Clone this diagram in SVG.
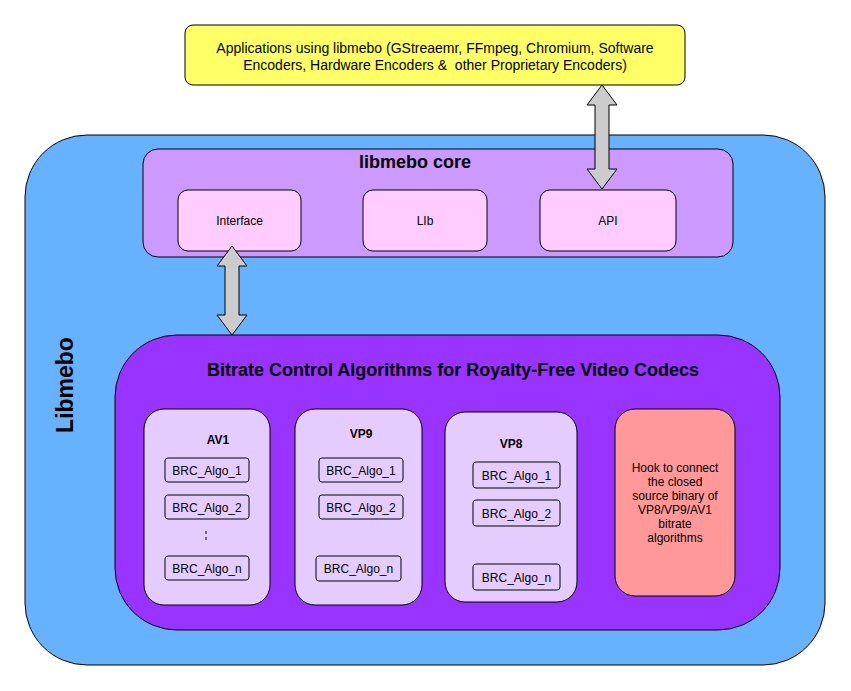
<svg xmlns="http://www.w3.org/2000/svg" width="851" height="691" viewBox="0 0 851 691">
<style>
text{font-family:"Liberation Sans",Arial,sans-serif;fill:#000;text-anchor:middle}
.b{font-weight:bold}
.box{stroke:#000;stroke-width:1}
.algo{fill:#e5ccff;stroke:#000;stroke-width:1}
.brc{fill:none;stroke:#000;stroke-width:1}
.arrow{fill:#cccccc;stroke:#000;stroke-width:1;stroke-linejoin:miter}
.s12{font-size:12px}
</style>
<rect width="851" height="691" fill="#fff"/>
<g id="libmebo">
<rect class="box" x="25" y="135" width="800" height="530" rx="62" fill="#66b2ff"/>
<text class="b" font-size="23" transform="translate(73,385) rotate(-90)">Libmebo</text>
</g>
<g id="apps">
<rect class="box" x="185" y="25" width="500" height="60" rx="8" fill="#ffff66"/>
<text font-size="14" x="435" y="53">Applications using libmebo (GStreaemr, FFmpeg, Chromium, Software</text>
<text font-size="14" x="435" y="70" xml:space="preserve">Encoders, Hardware Encoders &amp;  other Proprietary Encoders)</text>
</g>
<g id="core">
<rect class="box" x="143" y="149" width="590" height="108" rx="15" fill="#cc99ff"/>
<text class="b" font-size="18" x="415" y="168">libmebo core</text>
</g>
<g id="interface">
<rect class="box" x="178" y="190" width="123" height="61" rx="10" fill="#ffccff"/>
<text class="s12" x="239.5" y="225">Interface</text>
</g>
<g id="lib">
<rect class="box" x="363" y="190" width="124" height="61" rx="10" fill="#ffccff"/>
<text class="s12" x="425" y="225">LIb</text>
</g>
<g id="api">
<rect class="box" x="540" y="190" width="136" height="61" rx="10" fill="#ffccff"/>
<text class="s12" x="608" y="225">API</text>
</g>
<g id="brc">
<rect class="box" x="115" y="335" width="665" height="295" rx="62" fill="#9933ff"/>
<text class="b" font-size="18" x="453" y="376">Bitrate Control Algorithms for Royalty-Free Video Codecs</text>
</g>
<g id="av1">
<rect class="algo" x="144" y="409" width="126" height="196" rx="20"/>
<text class="b s12" x="218" y="444">AV1</text>
<rect class="brc" x="165" y="458" width="84" height="24" rx="3"/>
<text class="s12" x="207" y="475">BRC_Algo_1</text>
<rect class="brc" x="165" y="495" width="84" height="24" rx="3"/>
<text class="s12" x="207" y="512">BRC_Algo_2</text>
<line x1="206" y1="531" x2="206" y2="542" stroke="#000" stroke-dasharray="3,3"/>
<rect class="brc" x="165" y="556" width="84" height="24" rx="3"/>
<text class="s12" x="207" y="573">BRC_Algo_n</text>
</g>
<g id="vp9">
<rect class="algo" x="295" y="409" width="127" height="196" rx="20"/>
<text class="b s12" x="361" y="438">VP9</text>
<rect class="brc" x="319" y="458" width="84" height="24" rx="3"/>
<text class="s12" x="361" y="475">BRC_Algo_1</text>
<rect class="brc" x="319" y="495" width="84" height="24" rx="3"/>
<text class="s12" x="361" y="512">BRC_Algo_2</text>
<rect class="brc" x="316" y="556" width="85" height="25" rx="3"/>
<text class="s12" x="358.5" y="573">BRC_Algo_n</text>
</g>
<g id="vp8">
<rect class="algo" x="445" y="412" width="132" height="190" rx="20"/>
<text class="b s12" x="511" y="448">VP8</text>
<rect class="brc" x="473" y="462" width="87" height="26" rx="3"/>
<text class="s12" x="516.5" y="480">BRC_Algo_1</text>
<rect class="brc" x="473" y="500" width="87" height="26" rx="3"/>
<text class="s12" x="516.5" y="518">BRC_Algo_2</text>
<rect class="brc" x="473" y="564" width="87" height="26" rx="3"/>
<text class="s12" x="516.5" y="582">BRC_Algo_n</text>
</g>
<g id="hook">
<rect class="box" x="615" y="409" width="120" height="187" rx="20" fill="#ff9999"/>
<text class="s12" x="675" y="472">Hook to connect</text>
<text class="s12" x="675" y="486">the closed</text>
<text class="s12" x="675" y="500">source binary of</text>
<text class="s12" x="675" y="514">VP8/VP9/AV1</text>
<text class="s12" x="675" y="528">bitrate</text>
<text class="s12" x="675" y="542">algorithms</text>
</g>
<g id="connectors">
<path class="arrow" d="M232,246 L247,266 L239,266 L239,315 L247,315 L232,335 L217,315 L225,315 L225,266 L217,266 Z"/>
<path class="arrow" d="M602,85 L617,105 L609,105 L609,169 L617,169 L602,189 L587,169 L595,169 L595,105 L587,105 Z"/>
</g>
</svg>
